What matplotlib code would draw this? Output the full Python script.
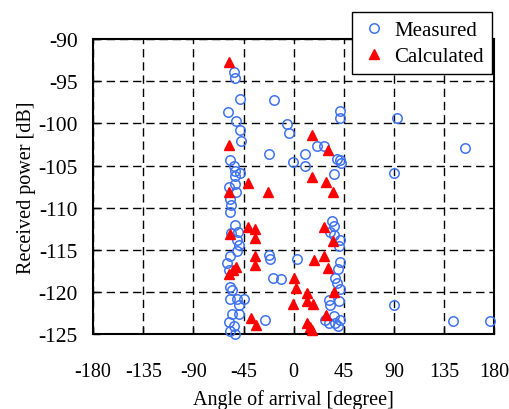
import numpy as np
import matplotlib
matplotlib.use("Agg")
import matplotlib.pyplot as plt

plt.rcParams["font.family"] = ["Liberation Serif", "DejaVu Serif"]
plt.rcParams["axes.unicode_minus"] = False

# measured arrival angles [degree] and powers [dB]
meas_angle = [-54, -52.8, -48.6, -58.8, -51.9, -48.6, -47.7, -57.6, -54, -52.5,
              -48.6, -53.1, -52.5, -58.5, -51.6, -57, -56.1, -57,
              -52.5, -50, -56.4, -51, -49.5, -51, -57, -60, -58.5, -57,
              -55.5, -57, -51, -45, -49.5, -55.5, -49.5, -58.5, -54, -57, -53,
              -18, -6, -3.9, -22.5, -0.9, 10.5, 10.5, 21, 27, -22.5,
              -21, 3, -18.6, -11.1, -25.5,
              42, 41.4, 39, 41.4, 42.6, 36, 34.5, 36, 33, 36.6,
              41.4, 40.5, 41.4, 39.6, 37.5, 39, 41.4, 40.5, 31.5, 33,
              36, 42, 28.5, 31.5, 37.5, 39.6,
              92.5, 154, 89.8, 89.8, 143, 176.3]
meas_power = [-93.9, -94.6, -97.1, -98.6, -99.7, -100.8, -102.1, -104.3, -105, -105.7,
              -105.9, -106.2, -107.2, -107.5, -108.1, -109, -109.7, -110.5,
              -112.1, -112.9, -113, -113.8, -114.4, -115.2, -115.8, -116.6, -117.4, -119.4,
              -119.8, -120.8, -120.8, -120.8, -121.6, -122.6, -122.6, -123.6, -124.1, -124.7, -125,
              -97.2, -100.1, -101.1, -103.6, -104.6, -103.6, -105, -102.7, -102.7, -115.6,
              -116.1, -116.1, -118.3, -118.5, -123.3,
              -98.5, -99.3, -104.2, -104.4, -104.7, -106, -111.6, -112.2, -112.9, -113.2,
              -113.9, -114.5, -116.5, -117.3, -118.3, -118.9, -119.7, -121.1, -121, -121.6,
              -122.9, -123.3, -123.3, -123.7, -123.7, -124,
              -99.4, -102.9, -105.9, -121.6, -123.5, -123.5]

# calculated
calc_angle = [-58, -58.5, -41.1, -57.9, -23.4, 16.8, 31.2, 16.8, 29.1, 35.4,
              -41.4, -34.5, -34.5, -57, -34.5, -34.5, -51.9, -54.9, -58.5, -38, -33.8,
              27, 35.4, 18, 27.6, 30.6, 36.6, 17.4, 29.4,
              0, 2.1, 12.3, 12, -0.3, 12, 15, 16.5]
calc_power = [-92.7, -102.6, -107.1, -108.2, -108.1, -101.4, -103.2, -106.4, -107.0, -108.2,
              -112.3, -112.5, -113.6, -113.1, -115.8, -116.8, -117, -117.4, -117.9, -123.1, -123.9,
              -112.3, -114.0, -116.2, -115.8, -117.2, -120, -121.4, -122.8,
              -118.4, -119.5, -120.1, -121.1, -121.5, -123.7, -124.2, -124.5]

x_ticks = np.arange(-180, 181, 45)
y_ticks = np.arange(-125, -89, 5)

fig = plt.figure(figsize=(5.09, 4.10), dpi=100)
ax = fig.add_axes([0.183, 0.183, 0.788, 0.719])

ax.plot(meas_angle, meas_power, "o", ms=6.8, mfc="none", mec="#3f73f0", mew=1.1,
        label="Measured", clip_on=False, zorder=3)
ax.plot(calc_angle, calc_power, "^", ms=7.8, color="red", mec="red",
        label="Calculated", clip_on=False, zorder=4)

ax.set_xlim(-180, 180)
ax.set_ylim(-125, -90)
ax.set_xticks(x_ticks)
ax.set_yticks(y_ticks)
ax.tick_params(direction="in", length=5, width=1, colors="black")
ax.tick_params(axis="x", pad=20, labelsize=14.5)
ax.tick_params(axis="y", pad=11, labelsize=15.5)
ax.grid(True, color="black", linestyle=(0, (6, 3.5)), linewidth=1)
for s in ax.spines.values():
    s.set_linewidth(1.5)

ax.set_xlabel("Angle of arrival [degree]", fontsize=14.5, labelpad=6)
ax.set_ylabel("Received power [dB]", fontsize=14.5, labelpad=2)

leg = fig.legend(loc="upper left", bbox_to_anchor=(0.692, 0.968), fontsize=15,
                 fancybox=False, framealpha=1, edgecolor="black", borderaxespad=0,
                 handletextpad=0.3, borderpad=0.4, labelspacing=0.3, handlelength=1.3)
leg.get_frame().set_linewidth(1)

fig.savefig("out.png", dpi=100)
